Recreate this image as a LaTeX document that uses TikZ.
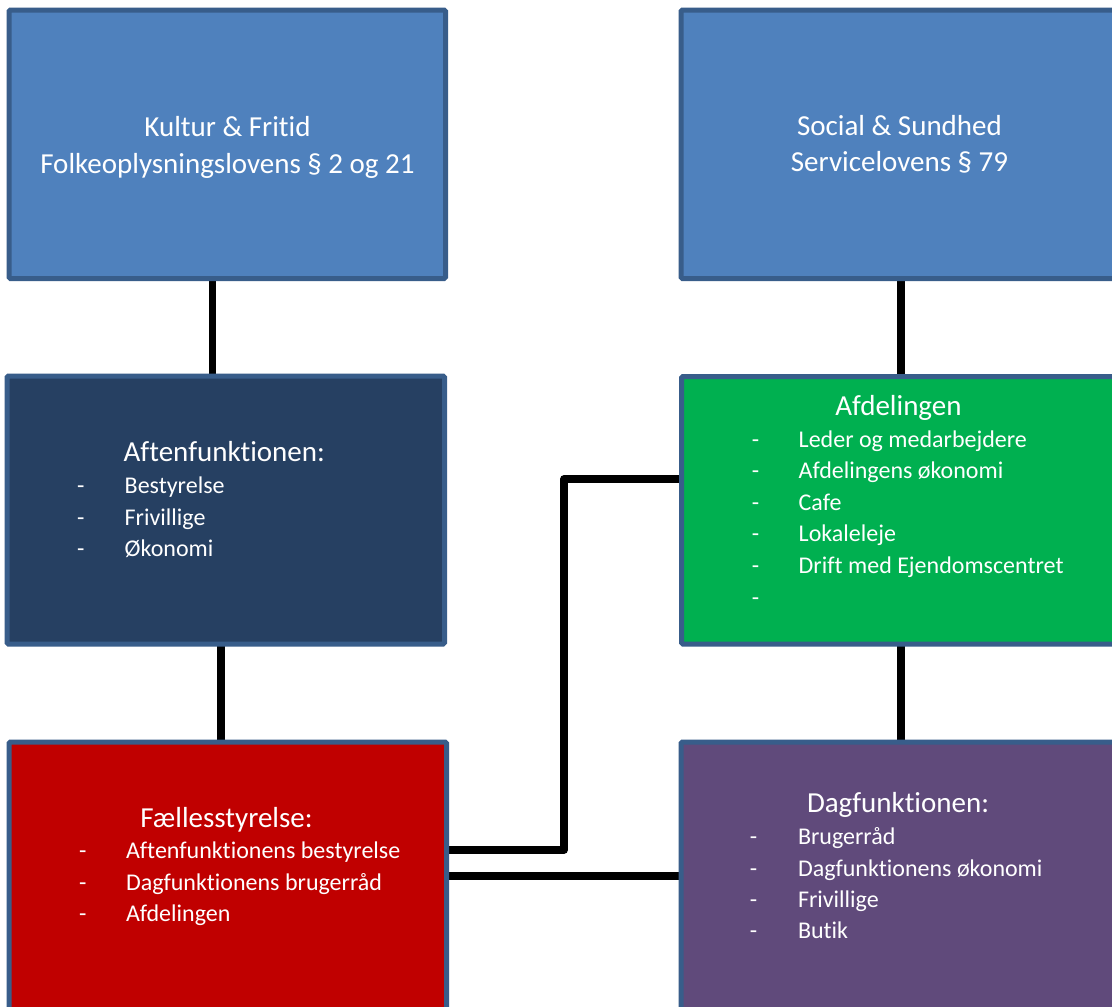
\documentclass[tikz,border=0pt]{standalone}
\usepackage{fontspec}
\setmainfont{Carlito}[Ligatures={NoCommon}]
\usetikzlibrary{backgrounds}
\definecolor{cblue}{HTML}{4F81BD}
\definecolor{cborder}{HTML}{385D8A}
\definecolor{cnavy}{HTML}{264062}
\definecolor{cgreen}{HTML}{00B050}
\definecolor{cred}{HTML}{C00000}
\definecolor{cpurple}{HTML}{604A7B}
\tikzset{
  box/.style={draw=cborder, line width=5pt, rectangle, rounded corners=1.5pt, inner sep=0pt, outer sep=0pt},
  conn/.style={draw=black, line width=7.5pt, line join=round},
  hd/.style={text=white, font=\fontsize{29}{36}\selectfont, inner sep=0pt, anchor=base west},
  hdc/.style={text=white, font=\fontsize{29}{36}\selectfont, inner sep=0pt, anchor=base},
  it/.style={text=white, font=\fontsize{24}{30}\selectfont, inner sep=0pt, anchor=base west}
}
\begin{document}
\begin{tikzpicture}[x=1pt,y=-1pt]
\useasboundingbox (0,0) rectangle (1112,1007);
\clip (0,0) rectangle (1112,1007);

% boxes
\node[box, fill=cblue, minimum width=436.5pt, minimum height=268.5pt] (k) at (227.25,144.25) {};
\node[box, fill=cblue, minimum width=437pt, minimum height=268.5pt] (s) at (899.5,144.25) {};
\node[box, fill=cnavy, minimum width=437.5pt, minimum height=268pt] (af) at (225.75,510) {};
\node[box, fill=cgreen, minimum width=437pt, minimum height=267.5pt] (ad) at (900,510.25) {};
\node[box, fill=cred, minimum width=437.5pt, minimum height=268pt] (fs) at (227.75,876) {};
\node[box, fill=cpurple, minimum width=437pt, minimum height=268pt] (dg) at (899.5,876) {};

% connectors
\begin{scope}[on background layer]
\fill[white] (0,0) rectangle (1112,1007);
\draw[conn] ([xshift=-14.75pt]k.south) -- ([xshift=-13.25pt]af.north);
\draw[conn] ([xshift=1.5pt]s.south) -- ([xshift=1pt]ad.north);
\draw[conn] ([xshift=-4.75pt]af.south) -- ([xshift=-6.75pt]fs.north);
\draw[conn] ([xshift=1pt]ad.south) -- ([xshift=1.5pt]dg.north);
\draw[conn] ([yshift=26pt]fs.east) -- ++(117.5,0) |- ([yshift=31.25pt]ad.west);
\draw[conn] (fs.east) -- (dg.west);
\end{scope}

% texts: Kultur & Fritid
\node[hdc] (k1) at (227.5,136.7) {Kultur \& Fritid};
\node[hdc] (k2) at (227.5,173.3) {Folkeoplysningslovens § 2 og 21};
% Social & Sundhed
\node[hdc] (s1) at (899.5,135) {Social \& Sundhed};
\node[hdc] (s2) at (899.5,171.7) {Servicelovens § 79};

% Aftenfunktionen
\node[hd] (afh) at (123.5,461.7) {Aftenfunktionen:};
\node[it] (afd1) at (77,493.3) {-};
\node[it] (afi1) at (124.5,493.3) {Bestyrelse};
\node[it] (afd2) at (77,525) {-};
\node[it] (afi2) at (124.5,525) {Frivillige};
\node[it] (afd3) at (77,556.3) {-};
\node[it] (afi3) at (124.5,556.3) {Økonomi};

% Afdelingen
\node[hd] (adh) at (835.2,415) {Afdelingen};
\node[it] (add1) at (751.7,447.3) {-};
\node[it] (adi1) at (798.5,447.3) {Leder og medarbejdere};
\node[it] (add2) at (751.7,478.3) {-};
\node[it] (adi2) at (798.5,478.3) {Afdelingens økonomi};
\node[it] (add3) at (751.7,510.7) {-};
\node[it] (adi3) at (798.5,510.7) {Cafe};
\node[it] (add4) at (751.7,541.7) {-};
\node[it] (adi4) at (798.5,541.7) {Lokaleleje};
\node[it] (add5) at (751.7,573.3) {-};
\node[it] (adi5) at (798.5,573.3) {Drift med Ejendomscentret};
\node[it] (add6) at (751.7,605) {-};

% Fællesstyrelse
\node[hd] (fsh) at (140.2,827.3) {Fællesstyrelse:};
\node[it] (fsd1) at (79,858.3) {-};
\node[it] (fsi1) at (125.8,858.3) {Aftenfunktionens bestyrelse};
\node[it] (fsd2) at (79,890.7) {-};
\node[it] (fsi2) at (125.8,890.7) {Dagfunktionens brugerråd};
\node[it] (fsd3) at (79,921.7) {-};
\node[it] (fsi3) at (125.8,921.7) {Afdelingen};

% Dagfunktionen
\node[hd] (dgh) at (806.8,812.7) {Dagfunktionen:};
\node[it] (dgd1) at (749.7,844) {-};
\node[it] (dgi1) at (797.8,844) {Brugerråd};
\node[it] (dgd2) at (749.7,876) {-};
\node[it] (dgi2) at (797.8,876) {Dagfunktionens økonomi};
\node[it] (dgd3) at (749.7,907.3) {-};
\node[it] (dgi3) at (797.8,907.3) {Frivillige};
\node[it] (dgd4) at (749.7,938.3) {-};
\node[it] (dgi4) at (797.8,938.3) {Butik};
\end{tikzpicture}
\end{document}
